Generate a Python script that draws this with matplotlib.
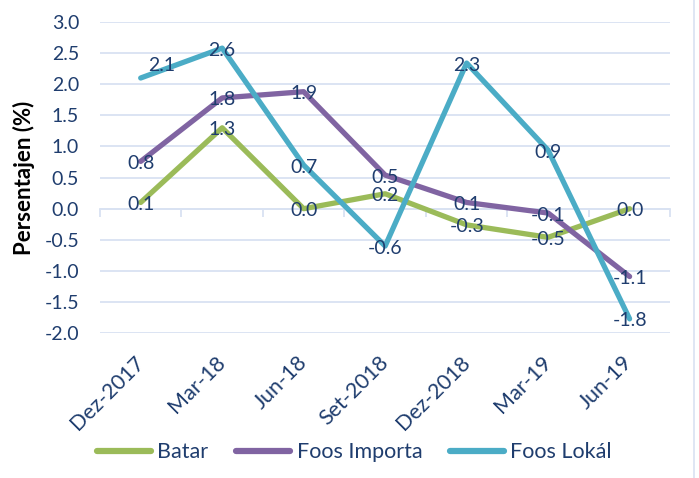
import matplotlib
matplotlib.use("Agg")
import matplotlib.pyplot as plt
from matplotlib.lines import Line2D

categories = ["Dez-2017", "Mar-18", "Jun-18", "Set-2018", "Dez-2018", "Mar-19", "Jun-19"]
batar = [0.1, 1.3, 0.0, 0.24, -0.26, -0.46, 0.0]
foos_importa = [0.76, 1.78, 1.88, 0.54, 0.1, -0.07, -1.09]
foos_lokal = [2.1, 2.58, 0.7, -0.6, 2.34, 0.94, -1.77]
series_names = ["Batar", "Foos Importa", "Foos Lokál"]
yticks = [-2.0, -1.5, -1.0, -0.5, 0.0, 0.5, 1.0, 1.5, 2.0, 2.5, 3.0]

colors = ["#9bbb59", "#8064a2", "#4bacc6"]
text_color = "#1f3d6e"
grid_color = "#d9e2f2"
FONT = ["Lato", "DejaVu Sans"]
plt.rcParams["font.family"] = FONT

fig = plt.figure(figsize=(6.99, 4.78), dpi=100)
ax = fig.add_axes([0.143, 0.303, 0.816, 0.651])

x = list(range(len(categories)))
all_series = [batar, foos_importa, foos_lokal]
for vals, name, c in zip(all_series, series_names, colors):
    ax.plot(x, vals, color=c, lw=3.8, label=name, solid_joinstyle="round",
            solid_capstyle="round", zorder=3)

# special label offsets (points) for crowded labels
offsets = {(2, 0): (15, 9)}
for si, vals in enumerate(all_series):
    for i, v in enumerate(vals):
        dx, dy = offsets.get((si, i), (0, -1.5))
        ax.annotate(f"{v:.1f}", (i, v), xytext=(dx, dy), textcoords="offset points",
                    ha="center", va="center", fontsize=14, color=text_color, zorder=5)

ax.set_xlim(-0.5, len(categories) - 0.5)
ax.set_ylim(-2.0, 3.0)
ax.set_yticks(yticks)
ax.set_yticklabels([f"{t:.1f}" for t in yticks])
ax.grid(axis="y", color=grid_color, lw=1.3, zorder=0)
ax.set_axisbelow(True)
for s in ax.spines.values():
    s.set_visible(False)
ax.tick_params(axis="y", length=0, labelsize=14, labelcolor=text_color, pad=15)

ax.set_xticks(x)
ax.set_xticklabels(categories, rotation=45, ha="right", va="center",
                   rotation_mode="anchor")
ax.tick_params(axis="x", length=0, labelsize=15.5, labelcolor=text_color, pad=19)

# category axis at zero with boundary tick marks
zero_frac = (0 - (-2.0)) / 5.0
sec = ax.secondary_xaxis(zero_frac)
sec.set_xticks([i - 0.5 for i in range(len(categories) + 1)])
sec.set_xticklabels([])
sec.tick_params(axis="x", direction="out", length=6, width=1.3, color=grid_color)
for s in sec.spines.values():
    s.set_visible(False)
sec.spines["bottom"].set_visible(True)
sec.spines["bottom"].set_color(grid_color)
sec.spines["bottom"].set_linewidth(1.3)

ax.set_ylabel("Persentajen (%)", fontsize=16, fontweight="bold", color="black", labelpad=7)

handles = [Line2D([0], [0], color=c, lw=4.5, solid_capstyle="round") for c in colors]
leg = fig.legend(handles, series_names, loc="center", bbox_to_anchor=(0.507, 0.054), ncol=3,
                 frameon=False, fontsize=15.5, handlelength=2.5, handletextpad=0.3,
                 columnspacing=1.3)
for t in leg.get_texts():
    t.set_color(text_color)

fig.add_artist(Line2D([0.993, 0.993], [0, 1], color="#d9e2f2", lw=1.2))

fig.savefig("out.png", dpi=100)
